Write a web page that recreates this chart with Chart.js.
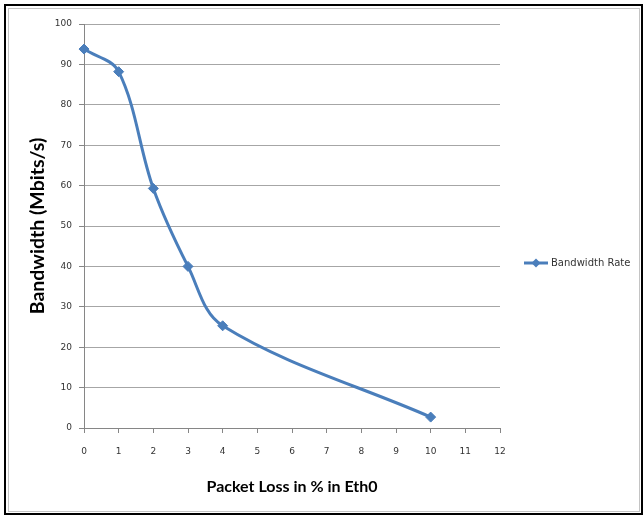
<!DOCTYPE html>
<html>
<head>
<meta charset="utf-8">
<script src="https://cdn.jsdelivr.net/npm/chart.js@4.4.1/dist/chart.umd.min.js"></script>
<style>
  html, body { margin: 0; padding: 0; background: #fff; }
  canvas { display: block; }
</style>
</head>
<body>
<canvas id="chart" width="644" height="516"></canvas>
<script>
// Packet loss (%) on Eth0 and the measured bandwidth at each loss level
const lossPct = [0, 1, 2, 3, 4, 10];
const bandwidth = [93.8, 88.2, 59.3, 40, 25.3, 2.7];
const seriesName = 'Bandwidth Rate';

// Axis ranges and tick spacing
const xRange = [0, 12];
const xStep = 1;
const yRange = [0, 100];
const yStep = 10;

const xTitle = 'Packet Loss in % in Eth0';
const yTitle = 'Bandwidth (Mbits/s)';

const lineColor = '#4A7EBB';
const tickFont = { family: 'DejaVu Sans', size: 9 };

// White background with a double frame round the figure
const framePlugin = {
  id: 'frame',
  beforeDraw(chart) {
    const ctx = chart.ctx;
    ctx.save();
    ctx.fillStyle = '#fff';
    ctx.fillRect(0, 0, chart.width, chart.height);
    ctx.strokeStyle = '#c4c4c4';
    ctx.lineWidth = 1;
    ctx.strokeRect(8.5, 8.5, 631, 503);
    ctx.strokeStyle = '#000';
    ctx.lineWidth = 2;
    ctx.strokeRect(5, 5, 637, 509);
    ctx.restore();
  }
};

// Legend entry to the right of the plot: line sample with diamond marker
const sideLegend = {
  id: 'sideLegend',
  afterDraw(chart) {
    const ctx = chart.ctx;
    const ds = chart.data.datasets[0];
    const y = 263;
    ctx.save();
    ctx.strokeStyle = ds.borderColor;
    ctx.lineWidth = 3;
    ctx.beginPath();
    ctx.moveTo(524, y);
    ctx.lineTo(548, y);
    ctx.stroke();
    ctx.fillStyle = ds.borderColor;
    ctx.beginPath();
    ctx.moveTo(536, y - 4.5);
    ctx.lineTo(540.5, y);
    ctx.lineTo(536, y + 4.5);
    ctx.lineTo(531.5, y);
    ctx.closePath();
    ctx.fill();
    ctx.fillStyle = '#333';
    ctx.font = '10px "DejaVu Sans"';
    ctx.textBaseline = 'middle';
    ctx.textAlign = 'left';
    ctx.fillText(ds.label, 551, y);
    ctx.restore();
  }
};

new Chart(document.getElementById('chart'), {
  type: 'line',
  data: {
    datasets: [{
      label: seriesName,
      data: lossPct.map((x, i) => ({ x: x, y: bandwidth[i] })),
      borderColor: lineColor,
      backgroundColor: lineColor,
      borderWidth: 3,
      tension: 0.35,
      fill: false,
      clip: false,
      pointStyle: 'rectRot',
      pointRadius: 5,
      pointBorderWidth: 1,
      pointBackgroundColor: lineColor,
      pointBorderColor: lineColor
    }]
  },
  options: {
    responsive: false,
    animation: false,
    layout: { padding: { left: 0, top: 24, right: 144, bottom: 0 } },
    plugins: {
      legend: { display: false },
      tooltip: { enabled: false }
    },
    scales: {
      x: {
        type: 'linear',
        min: xRange[0],
        max: xRange[1],
        ticks: { stepSize: xStep, padding: 13, color: '#333', font: tickFont },
        grid: { drawOnChartArea: false, drawTicks: true, tickLength: 5, tickColor: '#868686' },
        border: { color: '#868686', width: 1 },
        title: {
          display: true,
          text: xTitle,
          color: '#000',
          font: { family: 'Lato', weight: 'bold', size: 16 },
          padding: { top: 0, bottom: 20 }
        },
        afterFit(scale) { scale.height = 88; }
      },
      y: {
        min: yRange[0],
        max: yRange[1],
        ticks: { stepSize: yStep, padding: 7, color: '#333', font: tickFont },
        grid: { color: '#a6a6a6', lineWidth: 1, drawTicks: true, tickLength: 5, tickColor: '#868686' },
        border: { color: '#868686', width: 1 },
        title: {
          display: true,
          text: yTitle,
          color: '#000',
          font: { family: 'Lato', weight: 'bold', size: 19.5 },
          padding: { top: 26, bottom: 0 }
        },
        afterFit(scale) { scale.width = 84; }
      }
    }
  },
  plugins: [framePlugin, sideLegend]
});
</script>
</body>
</html>
